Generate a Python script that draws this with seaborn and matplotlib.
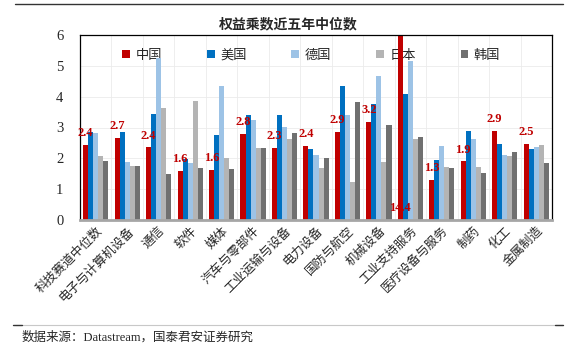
import matplotlib
matplotlib.use("Agg")
import matplotlib.pyplot as plt
import seaborn as sns
import pandas as pd
import numpy as np

categories = ["科技赛道中位数", "电子与计算机设备", "通信", "软件", "媒体", "汽车与零部件",
              "工业运输与设备", "电力设备", "国防与航空", "机械设备", "工业支持服务",
              "医疗设备与服务", "制药", "化工", "金属制造"]
countries = ["中国", "美国", "德国", "日本", "韩国"]
china = [2.43, 2.66, 2.36, 1.59, 1.63, 2.79, 2.34, 2.40, 2.85, 3.18, 14.4, 1.30, 1.90, 2.89, 2.46]
usa = [2.84, 2.85, 3.44, 1.97, 2.76, 3.41, 3.39, 2.31, 4.35, 3.76, 4.10, 1.95, 2.88, 2.46, 2.31]
germany = [2.82, 1.89, 5.24, 1.86, 4.34, 3.23, 3.02, 2.11, 3.41, 4.66, 5.16, 2.40, 2.64, 2.11, 2.37]
japan = [2.06, 1.74, 3.62, 3.86, 2.02, 2.35, 2.62, 1.68, 1.23, 1.88, 2.63, 1.73, 1.72, 2.09, 2.43]
korea = [1.92, 1.74, 1.49, 1.68, 1.65, 2.32, 2.82, 2.00, 3.82, 3.08, 2.69, 1.70, 1.52, 2.21, 1.85]
china_labels = ["2.4", "2.7", "2.4", "1.6", "1.6", "2.8", "2.3", "2.4", "2.9", "3.2", "14.4",
                "1.3", "1.9", "2.9", "2.5"]
colors = ["#C00000", "#0070C0", "#9DC3E6", "#B4B4B4", "#707070"]

series = [china, usa, germany, japan, korea]
rows = []
for c, vals in zip(countries, series):
    for cat, v in zip(categories, vals):
        rows.append({"行业": cat, "国家": c, "值": v})
df = pd.DataFrame(rows)

sns.set_style("white")
plt.rcParams['font.family'] = ['Noto Sans CJK SC', 'DejaVu Sans']

fig = plt.figure(figsize=(5.73, 3.47), dpi=100)
ax = fig.add_axes([80/573, 1-220/347, 472/573, 185/347])

sns.barplot(data=df, x="行业", y="值", hue="国家", order=categories, hue_order=countries,
            palette=colors, width=0.8, gap=0, ax=ax, zorder=2, errorbar=None,
            linewidth=0, saturation=1)

ax.set_ylim(0, 6)
ax.set_xlim(-0.5, len(categories) - 0.5)
ax.set_yticks(range(0, 7))
ax.set_yticklabels([str(i) for i in range(0, 7)], family='Liberation Serif', fontsize=10.5)
ax.set_xticks(range(len(categories)))
ax.set_xticklabels(categories, rotation=45, ha='right', rotation_mode='anchor', fontsize=9)
ax.tick_params(axis='x', length=0, pad=3)
ax.tick_params(axis='y', length=0, pad=12)
ax.set_xlabel("")
ax.set_ylabel("")

# grid
for yv in range(1, 6):
    ax.axhline(yv, color="#EBEBEB", lw=0.6, zorder=0)
for xv in np.arange(0.5, len(categories) - 0.5, 1):
    ax.axvline(xv, color="#EBEBEB", lw=0.6, zorder=0)

for s in ["left", "top", "right"]:
    ax.spines[s].set_color("#000000")
    ax.spines[s].set_linewidth(0.9)
ax.spines["bottom"].set_color("#A6A6A6")
ax.spines["bottom"].set_linewidth(2)

# china labels
bar_w = 0.8 / 5
for i, (v, lab) in enumerate(zip(china, china_labels)):
    xpos = i - 0.4 + bar_w / 2
    ypos = v + 0.38 if v < 6 else 0.39
    ax.text(xpos, ypos, lab, ha='center', va='center', color="#C00000",
            family='Liberation Serif', fontweight='bold', fontsize=9, zorder=5)

leg = ax.legend(loc='upper center', bbox_to_anchor=(0.49, 0.99), ncol=5, frameon=False,
                fontsize=9.5, handlelength=0.6, handleheight=0.6, columnspacing=3.4,
                handletextpad=0.4)
leg.set_zorder(1)

fig.text(288/573, 1-24/347, "权益乘数近五年中位数", ha='center', va='center', fontsize=10,
         fontweight='bold')

# top rule
fig.add_artist(plt.Line2D([15/573, 563/573], [1-4/347, 1-4/347], color="#333333", lw=1))
# bottom rule
fig.add_artist(plt.Line2D([15/573, 563/573], [1-325/347, 1-325/347], color="#C8C8C8", lw=0.8))
fig.add_artist(plt.Line2D([13/573, 22/573], [1-325/347, 1-325/347], color="#333333", lw=1))
fig.add_artist(plt.Line2D([555/573, 563/573], [1-325/347, 1-325/347], color="#333333", lw=1))

fig.text(22/573, 1-337/347, "数据来源：Datastream，国泰君安证券研究", ha='left', va='center',
         fontsize=9, family=['Liberation Serif', 'Noto Sans CJK SC'])

fig.savefig("out.png", dpi=100)
